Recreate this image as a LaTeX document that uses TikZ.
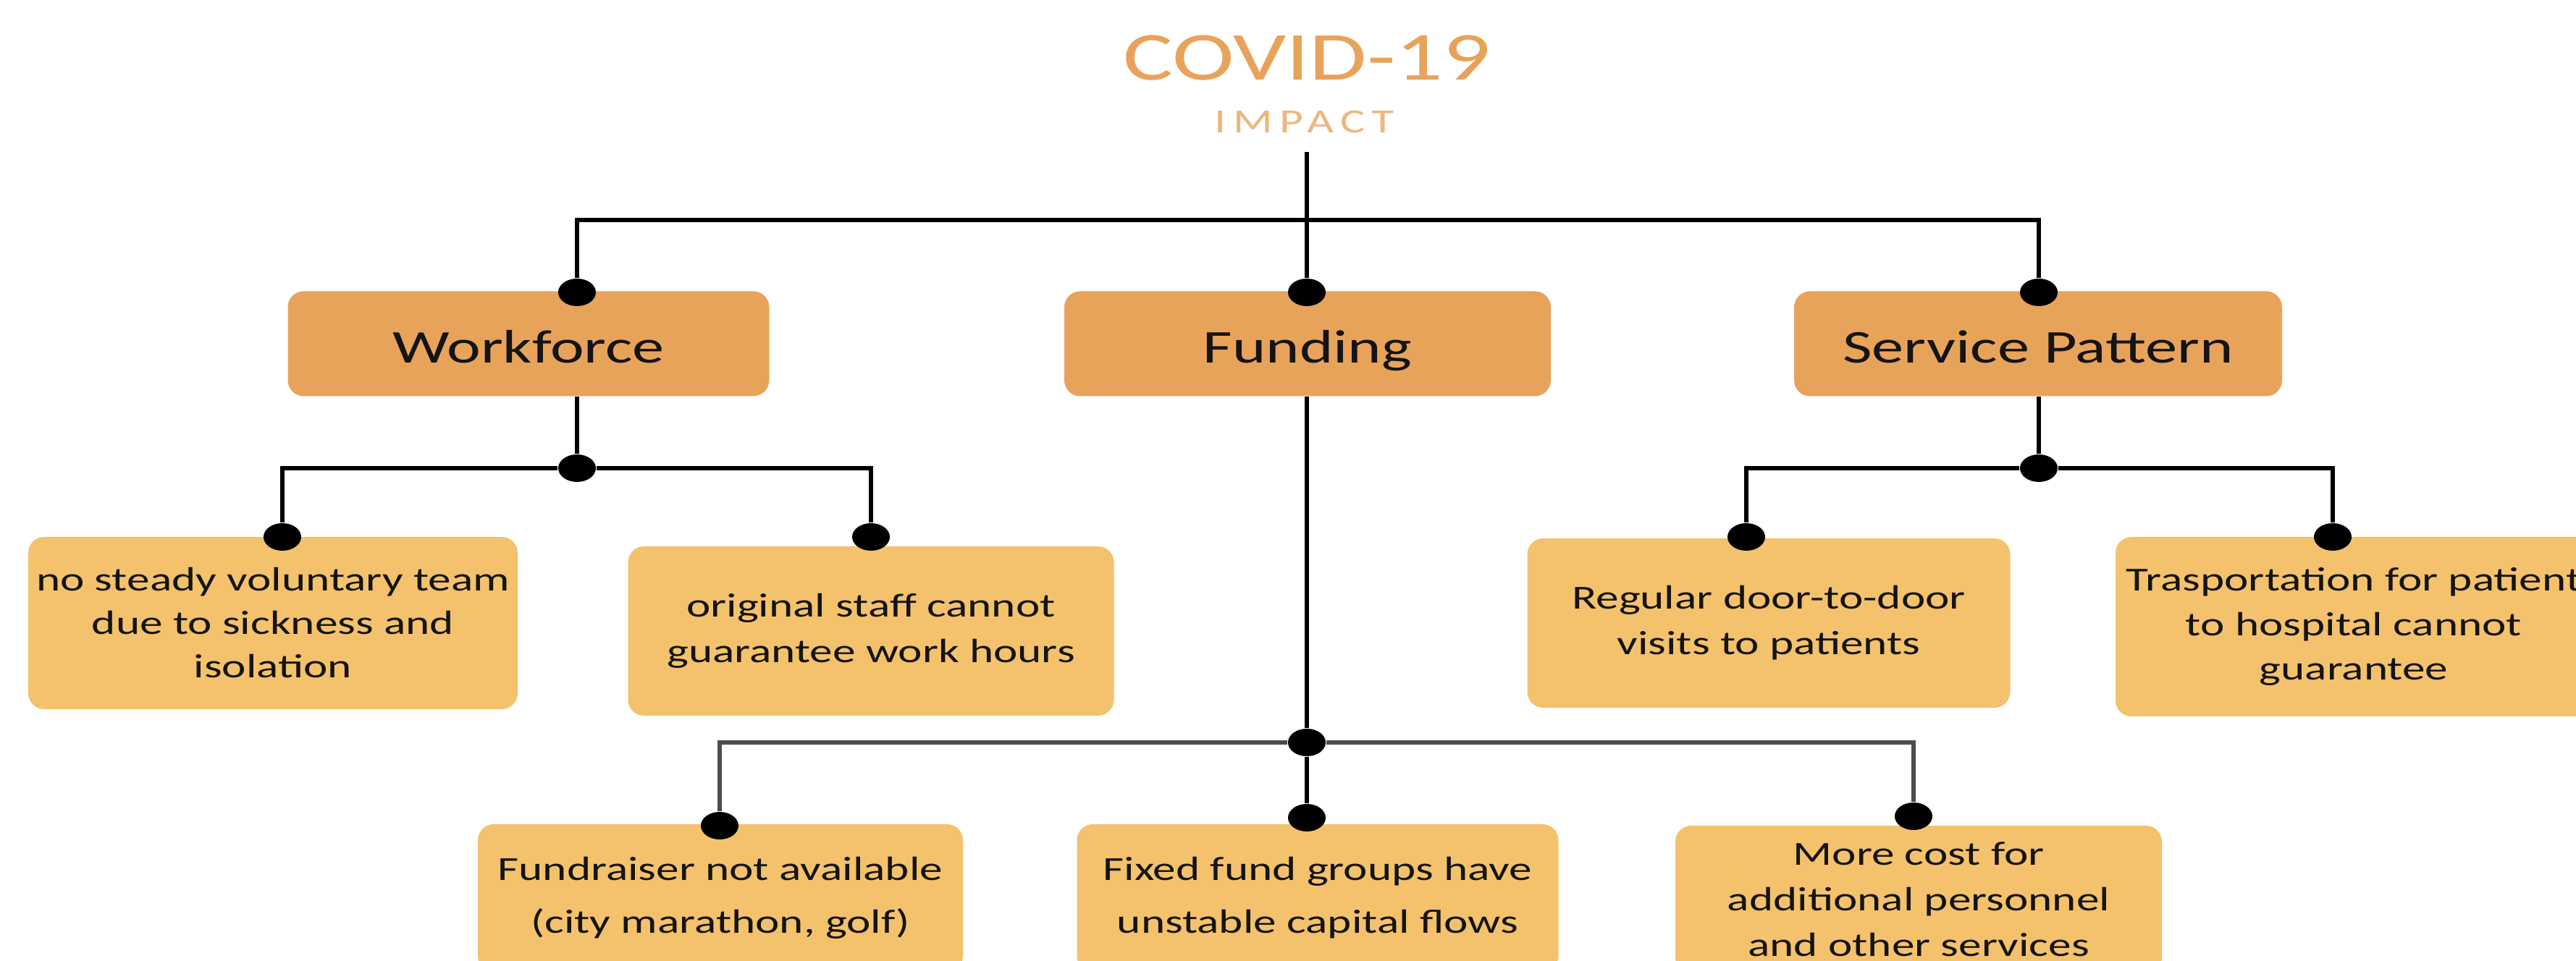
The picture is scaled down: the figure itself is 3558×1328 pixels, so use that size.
\documentclass[tikz,border=0pt]{standalone}
\usepackage{fontspec}
\setmainfont{Carlito}[FakeStretch=1.36]
\newfontfamily\impactfont{Carlito}[FakeStretch=1.36,LetterSpace=20]
\usetikzlibrary{shapes.geometric}
\definecolor{darkor}{HTML}{E8A35B}
\definecolor{lightor}{HTML}{F4C26C}
\definecolor{impactor}{HTML}{EDB77E}
\begin{document}
\begin{tikzpicture}[x=0.2pt,y=-0.2pt,
  boxone/.style={rectangle, rounded corners=4.4pt, fill=darkor, inner sep=0pt,
    minimum height=29pt, text height=12pt, text depth=1.2pt,
    text=black!92, font=\fontsize{13}{16}\selectfont},
  boxtwo/.style={rectangle, rounded corners=4.4pt, fill=lightor, inner sep=0pt,
    align=center, text=black!92, font=\fontsize{9.3}{12}\selectfont},
  conn/.style={line width=1.2pt, black},
  jdot/.style={ellipse, fill=black, inner sep=0pt, minimum width=10.4pt, minimum height=7.6pt}]
\useasboundingbox (0,0) rectangle (3558,1328);
\clip (0,0) rectangle (3558,1328);
\fill[white] (0,0) rectangle (3558,1328);

% title
\node[text=darkor, inner sep=0pt, font=\fontsize{19}{22}\selectfont] (title) at (1805,80) {COVID-19};
\node[text=impactor, inner sep=0pt, font=\impactfont\fontsize{9.4}{11}\selectfont] (impact) at (1802,168) {IMPACT};
\coordinate (t0) at (1805,210);
\coordinate (t1) at (1805,304);

% level one
\node[boxone, minimum width=133pt] (wf) at (730,475) {Workforce};
\node[boxone, minimum width=134.4pt] (fu) at (1806,475) {Funding};
\node[boxone, minimum width=134.8pt] (sp) at (2815,475) {Service Pattern};

% level two
\node[boxtwo, minimum width=135.2pt, minimum height=47.6pt] (a) at (377,861)
  {no steady voluntary team\\due to sickness and\\isolation};
\node[boxtwo, minimum width=134.2pt, minimum height=46.8pt,
  font=\fontsize{9.3}{12.6}\selectfont] (b) at (1203,872)
  {original staff cannot\\guarantee work hours};
\node[boxtwo, minimum width=133.4pt, minimum height=46.8pt,
  font=\fontsize{9.3}{12.6}\selectfont] (c) at (2443,861)
  {Regular door-to-door\\visits to patients};
\node[boxtwo, minimum width=131.6pt, minimum height=49.6pt,
  font=\fontsize{9.3}{12.3}\selectfont] (d) at (3251,866)
  {Trasportation for patient\\to hospital cannot\\guarantee};

% level three
\node[boxtwo, minimum width=134pt, minimum height=40.8pt,
  font=\fontsize{9.3}{14.6}\selectfont] (e) at (995,1241)
  {Fundraiser not available\\(city marathon, golf)};
\node[boxtwo, minimum width=133pt, minimum height=40.8pt,
  font=\fontsize{9.3}{14.6}\selectfont] (f) at (1820,1241)
  {Fixed fund groups have\\unstable capital flows};
\node[boxtwo, minimum width=134.4pt, minimum height=40.8pt,
  font=\fontsize{9.3}{12.6}\selectfont] (g) at (2650,1243)
  {More cost for\\additional personnel\\and other services};

% dots
\node[jdot] (dwf) at (797,404) {};
\node[jdot] (dfu) at (1805,404) {};
\node[jdot] (dsp) at (2816,404) {};
\node[jdot] (jwf) at (797,647) {};
\node[jdot] (da) at (390,742) {};
\node[jdot] (db) at (1203,742) {};
\node[jdot] (jsp) at (2816,647) {};
\node[jdot] (dc) at (2412,742) {};
\node[jdot] (dd) at (3222,742) {};
\node[jdot] (jfu) at (1805,1026) {};
\node[jdot] (de) at (994,1141) {};
\node[jdot] (df) at (1805,1130) {};
\node[jdot] (dg) at (2643,1128) {};

% connectors
\draw[conn] (t0) -- (dfu);
\draw[conn] (dwf) |- (t1) -| (dsp);
\draw[conn] (jwf |- wf.south) -- (jwf);
\draw[conn] (da) |- (jwf) -| (db);
\draw[conn] (jsp |- sp.south) -- (jsp);
\draw[conn] (dc) |- (jsp) -| (dd);
\draw[conn] (jfu |- fu.south) -- (jfu);
\draw[conn, black!70] (de) |- (jfu) -| (dg);
\draw[conn] (jfu) -- (df);
\end{tikzpicture}
\end{document}
